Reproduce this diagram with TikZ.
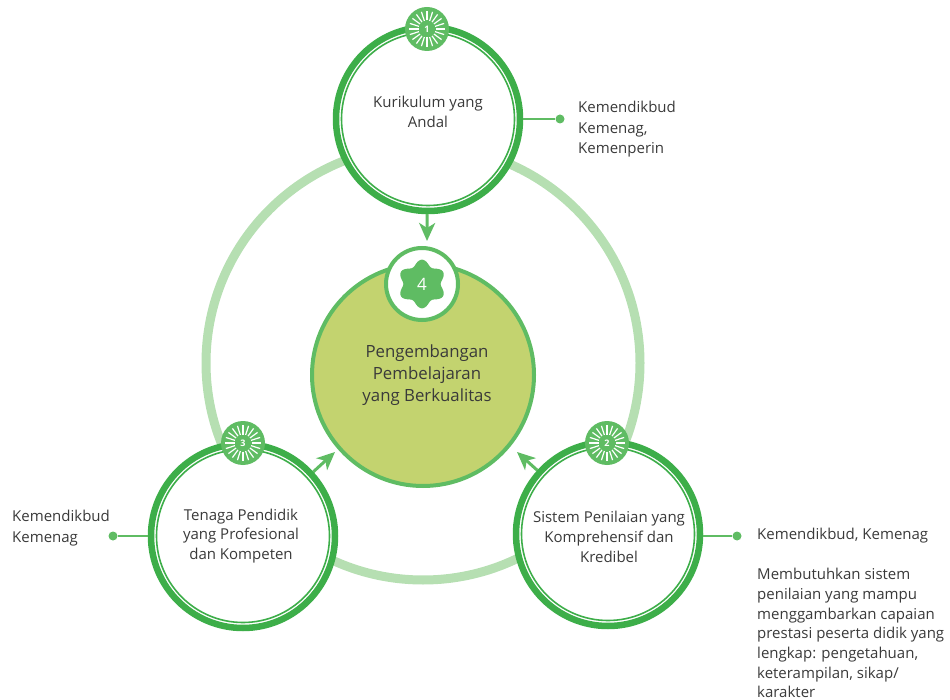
\documentclass[tikz,border=0pt]{standalone}
\usepackage{fontspec}
\setmainfont{Open Sans}
\usetikzlibrary{arrows.meta}
\definecolor{ringdark}{HTML}{3DAE49}
\definecolor{linkgreen}{HTML}{5FBC63}
\definecolor{ringlight}{HTML}{B6DFB2}
\definecolor{corefill}{HTML}{C3D36F}
\definecolor{inktext}{HTML}{3A3A3A}
\tikzset{
  bigring/.style={circle,draw=ringlight,line width=9pt,minimum size=434pt,inner sep=0pt},
  topic/.style={circle,draw=ringdark,fill=white,line width=6.5pt,minimum size=184pt,inner sep=0pt},
  topicinner/.style={circle,draw=ringdark,line width=1.6pt,minimum size=173pt,inner sep=0pt},
  topictext/.style={align=center,text=inktext,font=\fontsize{15}{19.7}\selectfont},
  core/.style={circle,draw=linkgreen,fill=corefill,line width=4pt,minimum size=222pt,inner sep=0pt},
  corecap/.style={circle,draw=linkgreen,fill=white,line width=4pt,minimum size=72pt,inner sep=0pt},
  coretext/.style={align=center,text=inktext,font=\fontsize{16.8}{21.7}\selectfont},
  disc/.style={circle,fill=linkgreen,minimum size=44pt,inner sep=0pt},
  discnum/.style={text=white,inner sep=0pt,font=\fontsize{9}{9}\selectfont\bfseries},
  notetext/.style={align=left,anchor=north west,inner sep=0pt,text=inktext},
  dotend/.style={circle,fill=linkgreen,minimum size=9pt,inner sep=0pt},
  dotlink/.style={draw=linkgreen,line width=2pt},
  flowlink/.style={draw=linkgreen,line width=3pt,-{Stealth[length=18pt,width=16pt,inset=5pt]}}
}
\newcommand{\Badge}[4]{%
  \node[disc] (#1) at (#2,#3) {};
  \foreach \a in {0,18,...,342}
    \draw[white,line width=1.2pt] ([shift={(\a:8.5pt)}]#1.center) -- ([shift={(\a:18pt)}]#1.center);
  \node[discnum] (#1num) at (#1.center) {#4};
}
\begin{document}
\begin{tikzpicture}[x=1pt,y=-1pt]
\useasboundingbox (0,0) rectangle (950,700);
\clip (0,0) rectangle (950,700);
\node[bigring] (ring) at (423,363) {};

\coordinate (tipA) at (427,241);
\coordinate (tipB) at (517,452);
\coordinate (tipC) at (335,452);
\node[dotend] (dotA) at (560,119) {};
\node[dotend] (dotB) at (737,536) {};
\node[dotend] (dotC) at (113,536) {};

\node[topic] (topA) at (428,119) {};
\node[topic] (rightB) at (608,534) {};
\node[topic] (leftC) at (243,536) {};
\node[topicinner] (innerA) at (topA.center) {};
\node[topicinner] (innerB) at (rightB.center) {};
\node[topicinner] (innerC) at (leftC.center) {};

\draw[flowlink] (topA) -- (tipA);
\draw[flowlink] (rightB) -- (tipB);
\draw[flowlink] (leftC) -- (tipC);
\draw[dotlink] (topA.east |- dotA) -- (dotA);
\draw[dotlink] (rightB.east |- dotB) -- (dotB);
\draw[dotlink] (leftC.west |- dotC) -- (dotC);

\node[core] (centre) at (423,375) {};
\node[corecap] (cap) at (422,284) {};
\draw[fill=linkgreen,draw=none] plot[domain=0:360,samples=181] ({422+(21.5-2.8*cos(6*\x))*cos(\x)},{284+(21.5-2.8*cos(6*\x))*sin(\x)}) -- cycle;
\node[text=white,inner sep=0pt,font=\fontsize{17}{17}\selectfont] (capnum) at (cap.center) {4};

\Badge{badgeA}{427}{29}{1}
\Badge{badgeB}{607}{443}{2}
\Badge{badgeC}{243}{443}{3}

\node[topictext] (textA) at (428,112) {Kurikulum yang\\Andal};
\node[topictext] (textB) at (609,537) {Sistem Penilaian yang\\Komprehensif dan\\Kredibel};
\node[topictext] (textC) at (241,536) {Tenaga Pendidik\\yang Profesional\\dan Kompeten};
\node[coretext] (textD) at (427,375) {Pengembangan\\Pembelajaran\\yang Berkualitas};

\node[notetext,font=\fontsize{15}{20.5}\selectfont] (noteA) at (578,101) {Kemendikbud\\Kemenag,\\Kemenperin};
\node[notetext,font=\fontsize{15}{20.5}\selectfont] (noteC) at (12,510) {Kemendikbud\\Kemenag};
\node[notetext,font=\fontsize{15}{20.5}\selectfont] (noteB) at (757,528) {Kemendikbud, Kemenag};
\node[notetext,font=\fontsize{15}{19.7}\selectfont] (noteB2) at (757,568) {Membutuhkan sistem\\penilaian yang mampu\\menggambarkan capaian\\prestasi peserta didik yang\\lengkap: pengetahuan,\\keterampilan, sikap/\\karakter};
\end{tikzpicture}
\end{document}
